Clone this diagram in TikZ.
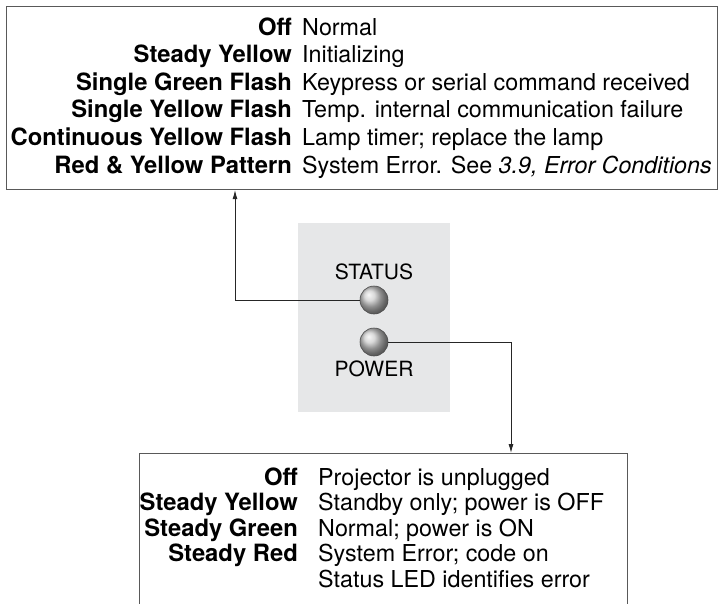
\documentclass[tikz,border=0pt]{standalone}
\usepackage{fontspec}
\setmainfont{TeX Gyre Heros}
\usepackage{xcolor}
\usetikzlibrary{arrows.meta,positioning}
\definecolor{panelgray}{HTML}{E6E7E8}
\tikzset{
  tbox/.style={rectangle, draw=black!65, line width=1.1pt, fill=white, anchor=north west, inner sep=0pt},
  lab/.style={anchor=base east, inner sep=0pt, font=\fontsize{23.8}{27}\selectfont\bfseries},
  desc/.style={anchor=base west, inner sep=0pt, font=\fontsize{23.3}{27}\selectfont},
  led/.style={circle, minimum size=28pt, inner sep=0pt, draw=black!70, line width=0.6pt, ball color=gray!40},
  ledlab/.style={inner sep=0pt, font=\fontsize{21}{24}\selectfont},
  conn/.style={-{Latex[length=9pt,width=5pt]}, line width=0.9pt, black!85},
}

\begin{document}
\begin{tikzpicture}[x=1pt, y=-1pt]
\useasboundingbox (0,0) rectangle (722,603);
\clip (0,0) rectangle (722,603);
% status LED table
\node[tbox, minimum width=711pt, minimum height=183pt] (topbox) at (6,6) {};
\foreach \i/\l/\d in {0/Off/Normal, 1/Steady Yellow/Initializing,
    2/Single Green Flash/Keypress or serial command received,
    3/Single Yellow Flash/Temp. internal communication failure,
    4/Continuous Yellow Flash/{Lamp timer; replace the lamp},
    5/Red \& Yellow Pattern/{System Error. See \textit{3.9, Error Conditions}}} {
  \node[lab] (sl\i) at (292, 35+27.6*\i) {\l};
  \node[desc] (sd\i) at (302, 35+27.6*\i) {\d};
}
% keypad panel
\node[rectangle, fill=panelgray, minimum width=152pt, minimum height=189pt, anchor=north west, inner sep=0pt] (panel) at (298,223) {};
\node[led] (statusled) at (374,300) {};
\node[led] (powerled) at (374,342) {};
\node[ledlab, above=6pt of statusled] (statuslab) {STATUS};
\node[ledlab, below=4pt of powerled] (powerlab) {POWER};
% power LED table
\node[tbox, minimum width=488pt, minimum height=200pt] (powerbox) at (139,453) {};
\foreach \i/\l/\d in {0/Off/Projector is unplugged,
    1/Steady Yellow/{Standby only; power is OFF},
    2/Steady Green/{Normal; power is ON},
    3/Steady Red/{System Error; code on},
    4//Status LED identifies error} {
  \node[lab] (pl\i) at (298, 485+25.5*\i) {\l};
  \node[desc] (pd\i) at (318, 485+25.5*\i) {\d};
}
\coordinate (upbend) at (235,300);
\coordinate (downbend) at (511,342);
\draw[conn] (statusled.west) -| (topbox.south -| upbend);
\draw[conn] (powerled.east) -| (powerbox.north -| downbend);
\end{tikzpicture}
\end{document}
